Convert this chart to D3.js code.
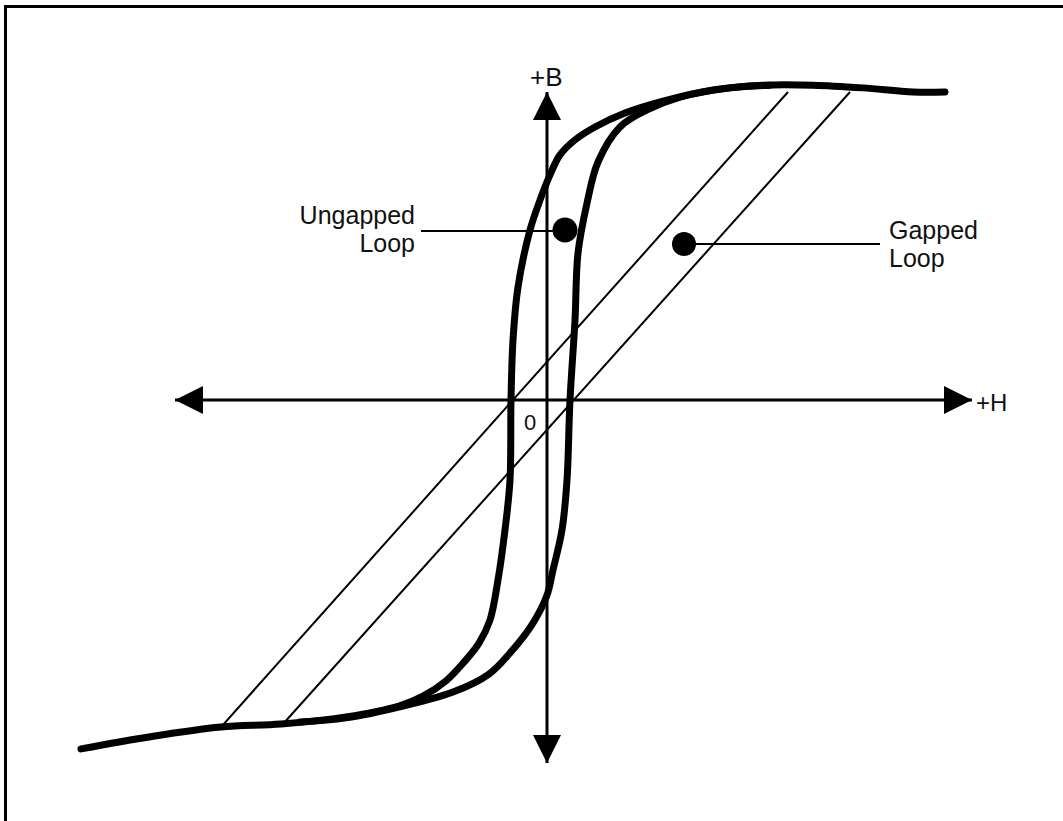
<!DOCTYPE html>
<html>
<head>
<meta charset="utf-8">
<script src="https://cdn.jsdelivr.net/npm/d3@7"></script>
<style>
  html, body { margin: 0; padding: 0; background: #fff; }
  svg { display: block; }
  text { font-family: "Liberation Sans", Arial, Helvetica, sans-serif; fill: #111; }
</style>
</head>
<body>
<svg id="chart" width="1063" height="821"></svg>
<script>
// ---- Data (H, B in normalized units) ----
// Ungapped loop, descending branch (from +saturation to -saturation)
const ungappedDescH = [0.995, 0.915, 0.79, 0.665, 0.54, 0.415, 0.29, 0.195, 0.12, 0.07, 0.0325, 0.0075, -0.0175, -0.0425, -0.0725, -0.085, -0.09, -0.0925, -0.105, -0.1225, -0.1425, -0.17, -0.2075, -0.2525, -0.31, -0.37, -0.5025, -0.665, -0.815, -0.995, -1.165];
const ungappedDescB = [0.906, 0.906, 0.918, 0.926, 0.926, 0.912, 0.879, 0.844, 0.803, 0.765, 0.721, 0.662, 0.588, 0.5, 0.332, 0.176, 0, -0.235, -0.382, -0.529, -0.647, -0.715, -0.771, -0.826, -0.871, -0.9, -0.932, -0.953, -0.962, -0.991, -1.026];
// Ungapped loop, ascending branch
const ungappedAscH = [-0.6175, -0.5025, -0.36, -0.235, -0.145, -0.0925, -0.035, 0, 0.015, 0.0375, 0.05, 0.0575, 0.07, 0.0775, 0.1, 0.1275, 0.1825, 0.25, 0.3325, 0.4575, 0.5575];
const ungappedAscB = [-0.947, -0.935, -0.9, -0.859, -0.806, -0.744, -0.656, -0.574, -0.5, -0.382, -0.235, 0, 0.235, 0.432, 0.579, 0.7, 0.803, 0.853, 0.891, 0.918, 0.926];
// Gapped loop: two straight branches [lower end, upper end]
const gappedDescH = [-0.815, 0.6025];
const gappedDescB = [-0.962, 0.906];
const gappedAscH = [-0.66, 0.7575];
const gappedAscB = [-0.953, 0.906];
// Axes extents
const axisHRange = [-0.93, 1.0625];
const axisBRange = [-1.068, 0.906];
// Annotation markers
const markerNames = ["Ungapped Loop", "Gapped Loop"];
const markerH = [0.045, 0.3425];
const markerB = [0.5, 0.459];
const labelLines = [["Ungapped", "Loop"], ["Gapped", "Loop"]];
const axisLabels = ["+H", "+B", "0"];

// ---- Scales ----
const x = d3.scaleLinear().domain([-1, 1]).range([147, 947]);
const y = d3.scaleLinear().domain([-1, 1]).range([740, 60]);

const svg = d3.select("#chart");

// Frame (only top/left edges visible in reference)
svg.append("rect")
  .attr("x", 5.5).attr("y", 6.5)
  .attr("width", 1200).attr("height", 1000)
  .attr("fill", "none").attr("stroke", "#000").attr("stroke-width", 3);

// Arrow marker
const defs = svg.append("defs");
defs.append("marker")
  .attr("id", "arrow")
  .attr("viewBox", "0 0 28 28")
  .attr("refX", 28).attr("refY", 14)
  .attr("markerWidth", 28).attr("markerHeight", 28)
  .attr("markerUnits", "userSpaceOnUse")
  .attr("orient", "auto-start-reverse")
  .append("path").attr("d", "M0,0 L28,14 L0,28 Z").attr("fill", "#000");

// Axes
svg.append("line")
  .attr("x1", x(axisHRange[0])).attr("y1", y(0))
  .attr("x2", x(axisHRange[1])).attr("y2", y(0))
  .attr("stroke", "#000").attr("stroke-width", 3)
  .attr("marker-start", "url(#arrow)").attr("marker-end", "url(#arrow)");
svg.append("line")
  .attr("x1", x(0)).attr("y1", y(axisBRange[0]))
  .attr("x2", x(0)).attr("y2", y(axisBRange[1]))
  .attr("stroke", "#000").attr("stroke-width", 3)
  .attr("marker-start", "url(#arrow)").attr("marker-end", "url(#arrow)");

// Gapped loop (thin straight lines)
const lineGen = d3.line().x(d => x(d[0])).y(d => y(d[1]));
[[gappedDescH, gappedDescB], [gappedAscH, gappedAscB]].forEach(([hs, bs]) => {
  svg.append("path")
    .attr("d", lineGen(d3.zip(hs, bs)))
    .attr("fill", "none").attr("stroke", "#000").attr("stroke-width", 2);
});

// Ungapped loop (thick curves)
const curveGen = d3.line().x(d => x(d[0])).y(d => y(d[1])).curve(d3.curveCatmullRom.alpha(0.5));
[[ungappedDescH, ungappedDescB], [ungappedAscH, ungappedAscB]].forEach(([hs, bs]) => {
  svg.append("path")
    .attr("d", curveGen(d3.zip(hs, bs)))
    .attr("fill", "none").attr("stroke", "#000").attr("stroke-width", 7)
    .attr("stroke-linecap", "round").attr("stroke-linejoin", "round");
});

// Annotations
const fontSize = 25;
// Ungapped
svg.append("line")
  .attr("x1", 421).attr("y1", y(markerB[0]) + 1)
  .attr("x2", x(markerH[0])).attr("y2", y(markerB[0]) + 1)
  .attr("stroke", "#000").attr("stroke-width", 2);
svg.append("circle").attr("cx", x(markerH[0])).attr("cy", y(markerB[0])).attr("r", 12.5).attr("fill", "#000");
labelLines[0].forEach((t, i) => {
  svg.append("text").attr("x", 415).attr("y", 224 + i * 28)
    .attr("text-anchor", "end").attr("font-size", fontSize).text(t);
});
// Gapped
svg.append("line")
  .attr("x1", x(markerH[1])).attr("y1", y(markerB[1]))
  .attr("x2", 880).attr("y2", y(markerB[1]))
  .attr("stroke", "#000").attr("stroke-width", 2);
svg.append("circle").attr("cx", x(markerH[1])).attr("cy", y(markerB[1])).attr("r", 12).attr("fill", "#000");
labelLines[1].forEach((t, i) => {
  svg.append("text").attr("x", 889).attr("y", 239 + i * 28)
    .attr("text-anchor", "start").attr("font-size", fontSize).text(t);
});

// Axis labels
svg.append("text").attr("x", 976).attr("y", 411).attr("font-size", 24).text(axisLabels[0]);
svg.append("text").attr("x", 530).attr("y", 86).attr("font-size", 26).text(axisLabels[1]);
svg.append("text").attr("x", 524).attr("y", 430).attr("font-size", 22).text(axisLabels[2]);
</script>
</body>
</html>
